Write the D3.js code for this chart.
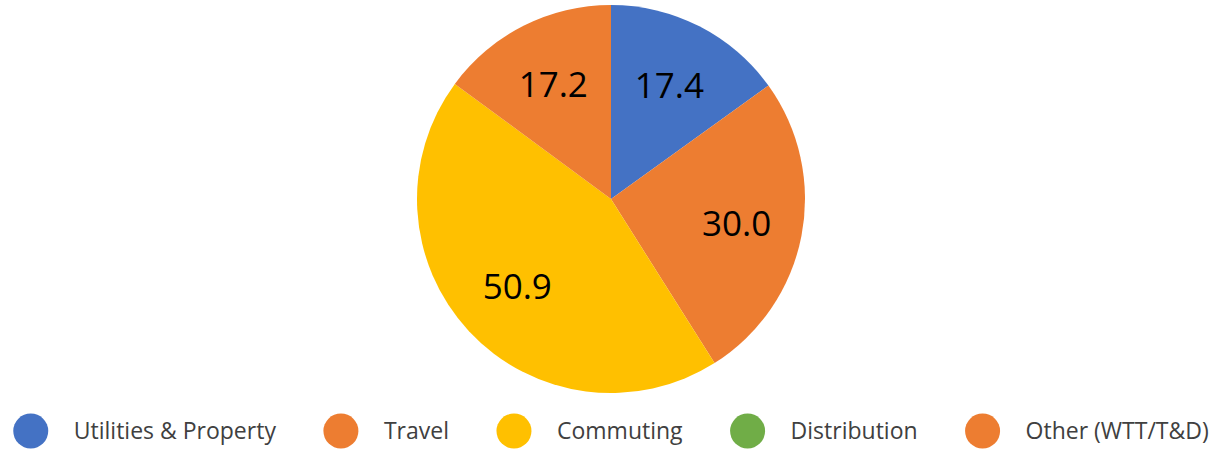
<!DOCTYPE html>
<html>
<head>
<meta charset="utf-8">
<script src="https://cdn.jsdelivr.net/npm/d3@7"></script>
<style>
  body { margin: 0; background: #fff; }
  text { font-family: "Open Sans", sans-serif; }
</style>
</head>
<body>
<div id="chart"></div>
<script>
var categories = ["Utilities & Property", "Travel", "Commuting", "Distribution", "Other (WTT/T&D)"];
var values = [17.4, 30.0, 50.9, 0, 17.2];
var colors = ["#4472C4", "#ED7D31", "#FFC000", "#70AD47", "#ED7D31"];

var width = 1225,
    height = 450;
var cx = 611,
    cy = 199,
    radius = 194;

var svg = d3.select("#chart").append("svg")
    .attr("width", width)
    .attr("height", height);

var color = d3.scaleOrdinal()
    .domain(categories)
    .range(colors);

var data = categories.map(function(name, i) {
    return { name: name, value: values[i] };
});

var pie = d3.pie()
    .sort(null)
    .value(function(d) { return d.value; });

var arc = d3.arc()
    .innerRadius(0)
    .outerRadius(radius);

var labelArc = d3.arc()
    .innerRadius(radius * 0.66)
    .outerRadius(radius * 0.66);

var g = svg.append("g")
    .attr("transform", "translate(" + cx + "," + cy + ")");

var slices = g.selectAll(".slice")
    .data(pie(data))
    .enter().append("g")
    .attr("class", "slice");

slices.append("path")
    .attr("d", arc)
    .style("fill", function(d) { return color(d.data.name); });

// labels, skip the empty slice
slices.filter(function(d) { return d.data.value > 0; })
    .append("text")
    .attr("transform", function(d) {
        return "translate(" + labelArc.centroid(d) + ")";
    })
    .attr("text-anchor", "middle")
    .attr("dy", "0.36em")
    .style("font-size", "35px")
    .style("fill", "#000")
    .text(function(d) { return d.data.value.toFixed(1); });

// legend
var legend = svg.append("g")
    .attr("class", "legend");

var items = legend.selectAll(".item")
    .data(data)
    .enter().append("g")
    .attr("class", "item");

items.append("circle")
    .attr("r", 17.5)
    .style("fill", function(d) { return color(d.name); });

items.append("text")
    .attr("x", 43)
    .attr("dy", "0.35em")
    .style("font-size", "23px")
    .style("fill", "#404040")
    .text(function(d) { return d.name; });

var xpos = 0;
items.each(function(d) {
    var w = d3.select(this).select("text").node().getComputedTextLength();
    d3.select(this).attr("transform", "translate(" + xpos + ",0)");
    d.end = xpos + 43 + w;
    xpos = d.end + 65;
});
var legendWidth = data[data.length - 1].end + 17.5;
legend.attr("transform", "translate(" + (cx - legendWidth / 2 + 17.5) + ",431)");
</script>
</body>
</html>
